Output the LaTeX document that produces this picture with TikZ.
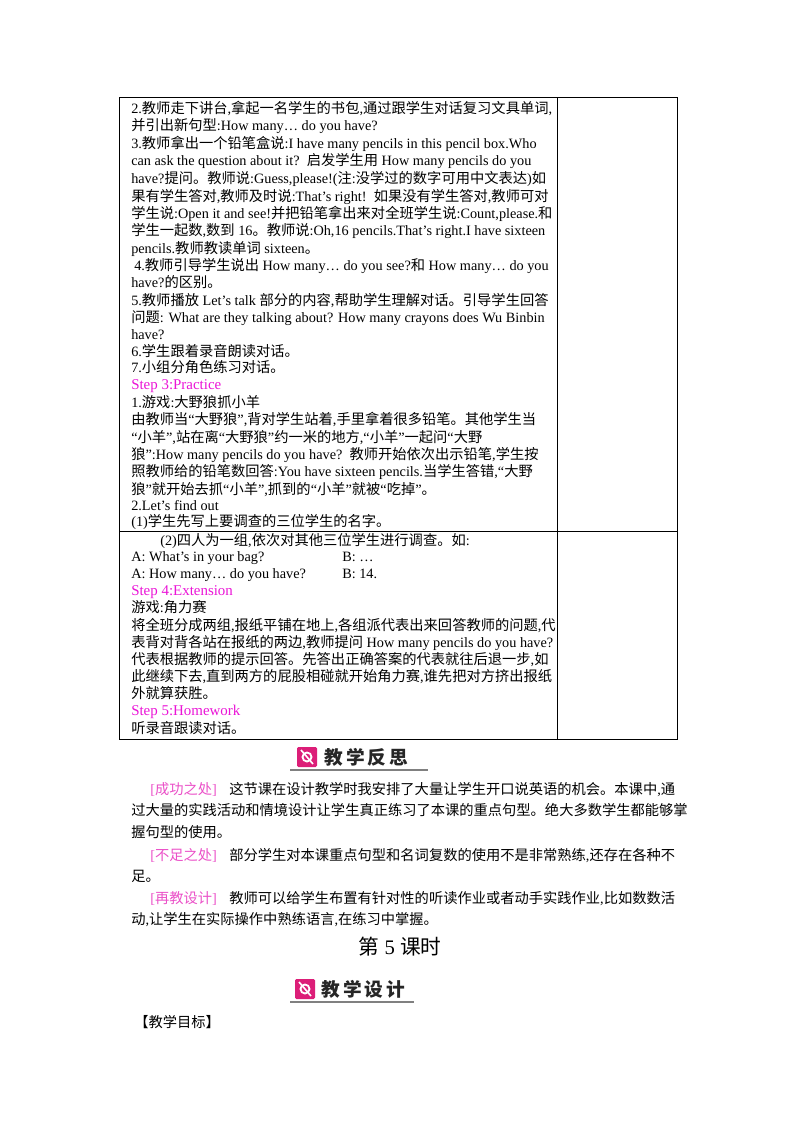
\documentclass[tikz,border=0pt]{standalone}
\usepackage{fontspec}
\setmainfont{Liberation Serif}
\newfontfamily\cjk{Noto Sans CJK SC}
\XeTeXinterchartokenstate=1
\newXeTeXintercharclass\cjkclass
\newcount\mycnt
\mycnt="3000 \loop \XeTeXcharclass\mycnt=\cjkclass \advance\mycnt 1 \ifnum\mycnt<"3040 \repeat
\mycnt="4E00 \loop \XeTeXcharclass\mycnt=\cjkclass \advance\mycnt 1 \ifnum\mycnt<"A000 \repeat
\mycnt="FF00 \loop \XeTeXcharclass\mycnt=\cjkclass \advance\mycnt 1 \ifnum\mycnt<"FFF0 \repeat
\XeTeXinterchartoks 0 \cjkclass = {\begingroup\cjk}
\XeTeXinterchartoks 4095 \cjkclass = {\begingroup\cjk}
\XeTeXinterchartoks \cjkclass 0 = {\endgroup}
\XeTeXinterchartoks \cjkclass 4095 = {\endgroup}
\definecolor{stepc}{RGB}{235,20,215}
\definecolor{brk}{RGB}{235,80,200}
\definecolor{iconc}{RGB}{220,30,120}
\tikzset{
 ln/.style={anchor=base west,inner sep=0pt,font=\fontsize{10.7}{12}\selectfont},
 st/.style={ln,text=stepc,font=\fontsize{11.2}{12}\selectfont},
 tb/.style={line width=0.6pt},
 hd/.style={anchor=west,inner sep=0pt,font=\fontsize{14}{15}\selectfont\bfseries,text=black!85},
}
\begin{document}
\begin{tikzpicture}[x=0.75pt,y=-0.75pt]
\useasboundingbox[fill=white] (0,0) rectangle (800,1132);
% table
\draw[tb] (119,97) rectangle (677,739);
\draw[tb] (557,97) -- (557,739);
\draw[tb] (119,531) -- (677,531);
% row 1
\node[ln] (l1) at (131,113) {2.教师走下讲台,拿起一名学生的书包,通过跟学生对话复习文具单词,};
\node[ln] (l2) at (131,130) {并引出新句型:How many… do you have?};
\node[ln] (l3) at (131,148) {3.教师拿出一个铅笔盒说:I have many pencils in this pencil box.Who};
\node[ln] (l4) at (131,165) {can ask the question about it?\ \ 启发学生用 How many pencils do you};
\node[ln] (l5) at (131,183) {have?提问。教师说:Guess,please!(注:没学过的数字可用中文表达)如};
\node[ln] (l6) at (131,201) {果有学生答对,教师及时说:That’s right!\ \ 如果没有学生答对,教师可对};
\node[ln] (l7) at (131,218) {学生说:Open it and see!并把铅笔拿出来对全班学生说:Count,please.和};
\node[ln] (l8) at (131,235) {学生一起数,数到 16。教师说:Oh,16 pencils.That’s right.I have sixteen};
\node[ln] (l9) at (131,253) {pencils.教师教读单词 sixteen。};
\node[ln] (l10) at (134,270) {4.教师引导学生说出 How many… do you see?和 How many… do you};
\node[ln] (l11) at (131,287) {have?的区别。};
\node[ln] (l12) at (131,305) {5.教师播放 Let’s talk 部分的内容,帮助学生理解对话。引导学生回答};
\node[ln] (l13) at (131,322) {问题: What are they talking about? How many crayons does Wu Binbin};
\node[ln] (l14) at (131,339) {have?};
\node[ln] (l15) at (131,356) {6.学生跟着录音朗读对话。};
\node[ln] (l16) at (131,372) {7.小组分角色练习对话。};
\node[st] (s3) at (131,389) {Step 3:Practice};
\node[ln] (l17) at (131,407) {1.游戏:大野狼抓小羊};
\node[ln] (l18) at (131,424) {由教师当“大野狼”,背对学生站着,手里拿着很多铅笔。其他学生当};
\node[ln] (l19) at (131,442) {“小羊”,站在离“大野狼”约一米的地方,“小羊”一起问“大野};
\node[ln] (l20) at (131,459) {狼”:How many pencils do you have?\ \ 教师开始依次出示铅笔,学生按};
\node[ln] (l21) at (131,476) {照教师给的铅笔数回答:You have sixteen pencils.当学生答错,“大野};
\node[ln] (l22) at (131,494) {狼”就开始去抓“小羊”,抓到的“小羊”就被“吃掉”。};
\node[ln] (l23) at (131,510) {2.Let’s find out};
\node[ln] (l24) at (131,526) {(1)学生先写上要调查的三位学生的名字。};
% row 2
\node[ln] (m1) at (160,545) {(2)四人为一组,依次对其他三位学生进行调查。如:};
\node[ln] (m2) at (131,561) {A: What’s in your bag?};
\node[ln] (m2b) at (342,561) {B: …};
\node[ln] (m3) at (131,578) {A: How many… do you have?};
\node[ln] (m3b) at (342,578) {B: 14.};
\node[st] (s4) at (131,595) {Step 4:Extension};
\node[ln] (m4) at (131,612) {游戏:角力赛};
\node[ln] (m5) at (131,630) {将全班分成两组,报纸平铺在地上,各组派代表出来回答教师的问题,代};
\node[ln] (m6) at (131,647) {表背对背各站在报纸的两边,教师提问 How many pencils do you have?};
\node[ln] (m7) at (131,664) {代表根据教师的提示回答。先答出正确答案的代表就往后退一步,如};
\node[ln] (m8) at (131,681) {此继续下去,直到两方的屁股相碰就开始角力赛,谁先把对方挤出报纸};
\node[ln] (m9) at (131,698) {外就算获胜。};
\node[st] (s5) at (131,715) {Step 5:Homework};
\node[ln] (m10) at (131,733) {听录音跟读对话。};
% header 1
\fill[iconc,rounded corners=1pt] (297,747) rectangle (317,767);
\draw[white,line width=1.4pt] (307,757) circle (4.5);
\draw[white,line width=1.2pt] (301,750) -- (307,757) -- (313,764);
\node[hd] (h1) at (324,757) {教\,学\,反\,思};
\draw[gray,line width=0.8pt] (290,770) -- (428,770);
% reflection
\tikzset{pl/.style={anchor=base west,inner sep=0pt,font=\fontsize{10.7}{12}\selectfont}}
\node[pl,text=brk] (b1) at (150,794) {[成功之处]};
\node[pl] (p1) at (229,794) {这节课在设计教学时我安排了大量让学生开口说英语的机会。本课中,通};
\node[pl] (p2) at (131,815) {过大量的实践活动和情境设计让学生真正练习了本课的重点句型。绝大多数学生都能够掌};
\node[pl] (p3) at (131,837) {握句型的使用。};
\node[pl,text=brk] (b2) at (150,860) {[不足之处]};
\node[pl] (p4) at (229,860) {部分学生对本课重点句型和名词复数的使用不是非常熟练,还存在各种不};
\node[pl] (p5) at (131,881) {足。};
\node[pl,text=brk] (b3) at (150,903) {[再教设计]};
\node[pl] (p6) at (229,903) {教师可以给学生布置有针对性的听读作业或者动手实践作业,比如数数活};
\node[pl] (p7) at (131,924) {动,让学生在实际操作中熟练语言,在练习中掌握。};
\node[anchor=center,inner sep=0pt,font=\fontsize{15.5}{16}\selectfont] (t5) at (400,947) {第 5 课时};
% header 2
\fill[iconc,rounded corners=1pt] (295,979) rectangle (315,999);
\draw[white,line width=1.4pt] (305,989) circle (4.5);
\draw[white,line width=1.2pt] (299,982) -- (305,989) -- (311,996);
\node[hd] (h2) at (321,989) {教\,学\,设\,计};
\draw[gray,line width=0.8pt] (290,1002) -- (414,1002);
\node[pl] (g) at (134,1027) {【教学目标】};
\end{tikzpicture}
\end{document}
